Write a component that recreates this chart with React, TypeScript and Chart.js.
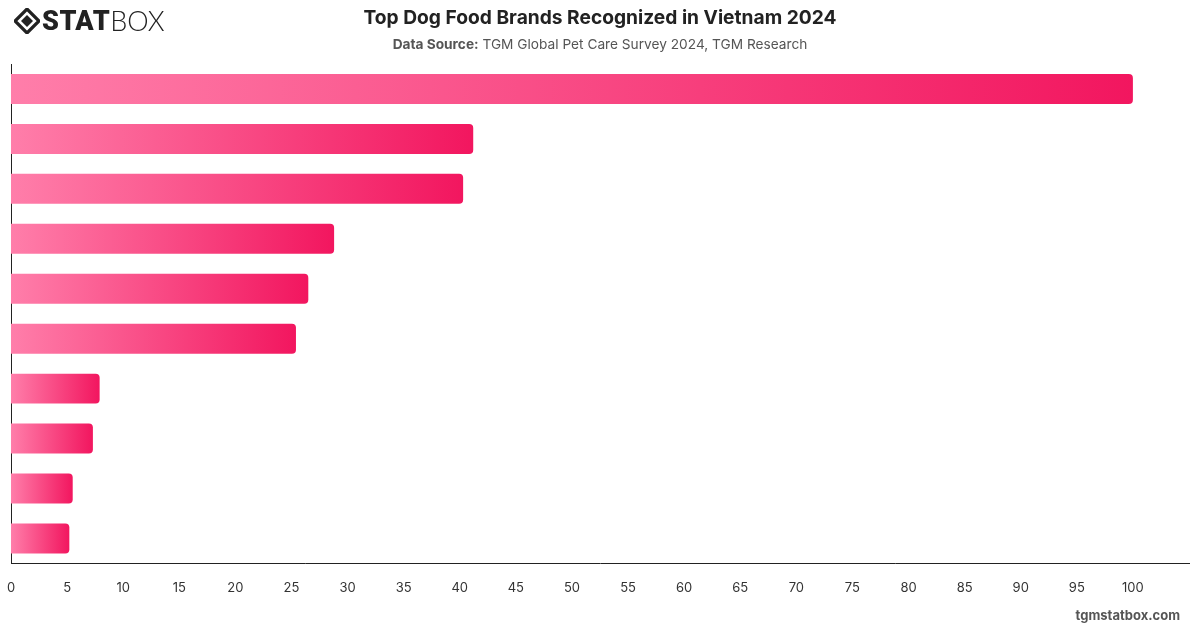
import React, { useEffect, useRef } from "react";
import { Chart, registerables } from "chart.js";

Chart.register(...registerables);

// Brand recognition share (%), ordered from most to least recognized
const brands = [
  "Brand 1",
  "Brand 2",
  "Brand 3",
  "Brand 4",
  "Brand 5",
  "Brand 6",
  "Brand 7",
  "Brand 8",
  "Brand 9",
  "Brand 10",
];
const recognition = [100, 41.2, 40.3, 28.8, 26.5, 25.4, 7.9, 7.3, 5.5, 5.2];
const xTicks = [0, 5, 10, 15, 20, 25, 30, 35, 40, 45, 50, 55, 60, 65, 70, 75, 80, 85, 90, 95, 100];

const FONT = "Inter, 'Noto Sans', sans-serif";

function Logo() {
  return (
    <div style={{ position: "absolute", left: 14, top: 6, display: "flex", alignItems: "center", height: 30 }}>
      <svg width="26" height="26" viewBox="0 0 26 26" style={{ marginRight: 2 }}>
        <path d="M13 1 L25 13 L13 25 L1 13 Z" fill="none" stroke="#222" strokeWidth="3.2" strokeLinejoin="miter" />
        <path d="M13 7 L19 13 L13 19 L7 13 Z" fill="#222" />
      </svg>
      <span style={{ fontFamily: "Roboto, sans-serif", fontWeight: 900, fontSize: 27, color: "#222", letterSpacing: 0.5, lineHeight: "30px" }}>
        STAT
      </span>
      <span style={{ fontFamily: "Lato, sans-serif", fontWeight: 300, fontSize: 27, color: "#222", lineHeight: "30px" }}>
        BOX
      </span>
    </div>
  );
}

export default function App() {
  const canvasRef = useRef<HTMLCanvasElement | null>(null);

  useEffect(() => {
    const canvas = canvasRef.current;
    if (!canvas) return;

    const chart = new Chart(canvas, {
      type: "bar",
      data: {
        labels: brands,
        datasets: [
          {
            data: recognition,
            backgroundColor: (ctx: any) => {
              const c = ctx.chart;
              const area = c.chartArea;
              if (!area || ctx.type !== "data") return "#f5286e";
              const xs = c.scales.x;
              const x0 = xs.getPixelForValue(0);
              const x1 = xs.getPixelForValue(ctx.raw as number);
              const g = c.ctx.createLinearGradient(x0, 0, Math.max(x1, x0 + 1), 0);
              g.addColorStop(0, "#ff7eaa");
              g.addColorStop(1, "#f2165f");
              return g;
            },
            borderRadius: 4,
            borderSkipped: "start",
            barPercentage: 0.75,
            categoryPercentage: 0.8,
          },
        ],
      },
      options: {
        indexAxis: "y",
        animation: false,
        responsive: false,
        maintainAspectRatio: false,
        layout: { padding: { left: 11, right: 11, top: 64, bottom: 15 } },
        plugins: {
          legend: { display: false },
          title: { display: false },
          tooltip: { enabled: false },
        },
        scales: {
          x: {
            min: 0,
            max: 105,
            afterBuildTicks: (axis: any) => {
              axis.ticks = xTicks.map((v) => ({ value: v }));
            },
            afterFit: (scale: any) => {
              scale.paddingLeft = 0;
              scale.paddingRight = 0;
            },
            grid: { display: false, drawTicks: false },
            border: { display: true, color: "#222", width: 1 },
            ticks: {
              padding: 17,
              color: "#333",
              font: { family: FONT, size: 13 },
              maxRotation: 0,
              autoSkip: false,
            },
          },
          y: {
            afterFit: (scale: any) => {
              scale.width = 0;
            },
            grid: { display: false, drawTicks: false },
            border: { display: true, color: "#222", width: 1 },
            ticks: { display: false },
          },
        },
      },
    });

    return () => chart.destroy();
  }, []);

  return (
    <div
      style={{
        position: "fixed",
        left: 0,
        top: 0,
        width: 1200,
        height: 628,
        background: "#fff",
        overflow: "hidden",
        fontFamily: FONT,
      }}
    >
      <canvas ref={canvasRef} width={1200} height={628} style={{ position: "absolute", left: 0, top: 0, width: 1200, height: 628 }} />
      <Logo />
      <div
        style={{
          position: "absolute",
          left: 0,
          top: 5,
          width: 1200,
          textAlign: "center",
          fontSize: 19.2,
          fontWeight: 700,
          color: "#222",
          lineHeight: "24px",
        }}
      >
        Top Dog Food Brands Recognized in Vietnam 2024
      </div>
      <div
        style={{
          position: "absolute",
          left: 0,
          top: 35,
          width: 1200,
          textAlign: "center",
          fontSize: 13.7,
          color: "#555",
          lineHeight: "18px",
        }}
      >
        <span style={{ fontWeight: 700 }}>Data Source:</span> TGM Global Pet Care Survey 2024, TGM Research
      </div>
      <div
        style={{
          position: "absolute",
          right: 20,
          top: 606,
          fontSize: 13,
          fontWeight: 700,
          color: "#555",
          lineHeight: "18px",
        }}
      >
        tgmstatbox.com
      </div>
    </div>
  );
}
